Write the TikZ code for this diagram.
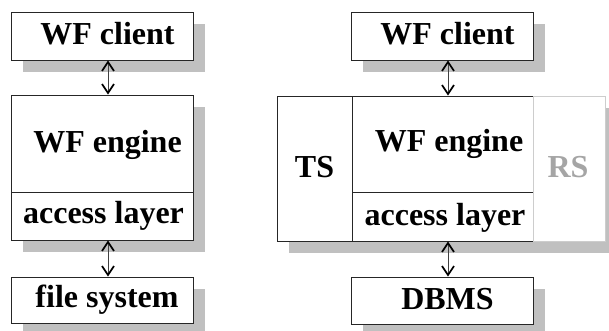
\documentclass[tikz,border=0pt]{standalone}
\usepackage{fontspec}
\setmainfont{Liberation Serif}
\usetikzlibrary{arrows.meta,backgrounds}
\definecolor{shadowgray}{RGB}{192,192,192}
\definecolor{rsgray}{RGB}{165,165,165}
\definecolor{rsline}{RGB}{205,205,205}
\begin{document}
\begin{tikzpicture}[x=1pt,y=-1pt,
  box/.style={draw=black!85, line width=0.9pt, fill=white, inner sep=0pt, minimum width=#1},
  lbl/.style={inner sep=0pt, anchor=base, font=\fontsize{32}{38}\selectfont\bfseries},
  shade/.style={fill=shadowgray},
  link/.style={draw=black!75, line width=0.8pt,
    {Straight Barb[length=9pt,width=12pt,line width=1.7pt,color=black]}-{Straight Barb[length=9pt,width=12pt,line width=1.7pt,color=black]}}]
\useasboundingbox (0,0) rectangle (609,331);
% left column
\node[box=182pt, minimum height=48pt] (client1) at (102,36) {};
\node[box=182pt, minimum height=97pt] (engine1) at (102,143.5) {};
\node[box=182pt, minimum height=48pt] (access1) at (102,216) {};
\node[box=182pt, minimum height=46pt] (fs1) at (102,300) {};
% right column
\node[box=182pt, minimum height=48pt] (client2) at (442,36) {};
\node[box=75pt, minimum height=145pt] (ts2) at (314.5,168.5) {};
\node[box=181pt, minimum height=96pt] (engine2) at (442.5,144) {};
\node[box=181pt, minimum height=49pt] (access2) at (442.5,216.5) {};
\node[box=72pt, minimum height=145pt, draw=rsline] (rs2) at (569,168.5) {};
\node[box=182pt, minimum height=47pt] (dbms2) at (442,300.5) {};
% shadows
\begin{pgfonlayer}{background}
\fill[shade] ([shift={(12,12)}]client1.north west) rectangle ([shift={(12,12)}]client1.south east);
\fill[shade] ([shift={(12,12)}]engine1.north west) rectangle ([shift={(12,12)}]access1.south east);
\fill[shade] ([shift={(12,12)}]fs1.north west) rectangle ([shift={(12,12)}]fs1.south east);
\fill[shade] ([shift={(12,12)}]client2.north west) rectangle ([shift={(12,12)}]client2.south east);
\fill[shade] ([shift={(12,12)}]ts2.north west) rectangle ([shift={(12,12)}]rs2.south east);
\fill[shade] ([shift={(12,12)}]dbms2.north west) rectangle ([shift={(12,12)}]dbms2.south east);
\end{pgfonlayer}
% labels
\node[lbl] (t1) at (107.5,45) {WF client};
\node[lbl] (t2) at (107.5,152) {WF engine};
\node[lbl] (t3) at (103.5,223) {access layer};
\node[lbl] (t4) at (107,307) {file system};
\node[lbl] (t5) at (447.5,45) {WF client};
\node[lbl] (t6) at (449,151) {WF engine};
\node[lbl] (t7) at (445,225) {access layer};
\node[lbl] (t8) at (447.5,309) {DBMS};
\node[lbl] (t9) at (314.5,177) {TS};
\node[lbl, text=rsgray] (t10) at (568,177) {RS};
% connectors
\draw[link] ([xshift=6pt]client1.south) -- ([xshift=6pt]engine1.north);
\draw[link] ([xshift=6pt]access1.south) -- ([xshift=6pt]fs1.north);
\draw[link] ([xshift=6pt]client2.south) -- ([xshift=5.5pt]engine2.north);
\draw[link] ([xshift=5.5pt]access2.south) -- ([xshift=6pt]dbms2.north);
\end{tikzpicture}
\end{document}
